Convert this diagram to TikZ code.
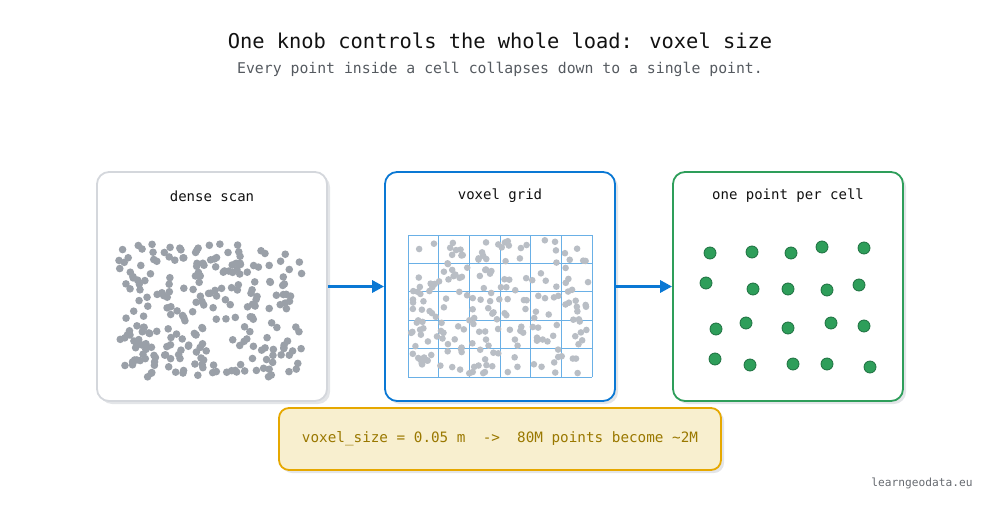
\documentclass[tikz,border=0pt]{standalone}
\usepackage{fontspec}
\setmainfont{DejaVu Sans Mono}
\setmonofont{DejaVu Sans Mono}
\usetikzlibrary{arrows.meta}
\definecolor{titlec}{HTML}{111111}
\definecolor{subc}{HTML}{555A60}
\definecolor{p1border}{HTML}{D4D7DC}
\definecolor{bluec}{HTML}{0A78D4}
\definecolor{greenc}{HTML}{2E9E5A}
\definecolor{greendark}{HTML}{1E7040}
\definecolor{shadowc}{HTML}{E3E5E8}
\definecolor{dotc}{HTML}{9AA0A8}
\definecolor{ldotc}{HTML}{B9BEC5}
\definecolor{gridc}{HTML}{6AB0E6}
\definecolor{noteback}{HTML}{F8EFCF}
\definecolor{noteborder}{HTML}{E6A800}
\definecolor{notetext}{HTML}{9A7800}
\definecolor{wmc}{HTML}{666A70}
\tikzset{
  panel/.style={draw, line width=1.8pt, rounded corners=12pt, fill=white, minimum width=230pt, minimum height=229pt, inner sep=0pt},
  ptitle/.style={font=\fontsize{14}{16}\selectfont, text=titlec},
  flow/.style={draw=bluec, line width=3pt, -{Triangle[length=12pt,width=12pt]}},
  densedot/.style={fill=dotc, draw=none},
  lightdot/.style={fill=ldotc, draw=none},
  celldot/.style={fill=greenc, draw=greendark, line width=0.8pt},
}
\begin{document}
\begin{tikzpicture}[x=1pt,y=-1pt]
\useasboundingbox (0,0) rectangle (1000,516);
% title
\node[font=\fontsize{20.4}{24}\selectfont, text=titlec] (title) at (500,41) {One knob controls the whole load: voxel size};
\node[font=\fontsize{14.8}{17}\selectfont, text=subc] (sub) at (500,69) {Every point inside a cell collapses down to a single point.};
% shadows
\fill[shadowc, rounded corners=12pt] (100,175) rectangle (330,404);
\fill[shadowc, rounded corners=12pt] (388,175) rectangle (618,404);
\fill[shadowc, rounded corners=12pt] (676,175) rectangle (906,404);
\fill[shadowc, rounded corners=10pt] (282,411) rectangle (724,473);
% panels
\node[panel, draw=p1border] (p1) at (212,286.5) {};
\node[panel, draw=bluec] (p2) at (500,286.5) {};
\node[panel, draw=greenc] (p3) at (788,286.5) {};
\node[ptitle] (t1) at (212,196) {dense scan};
\node[ptitle] (t2) at (500,196) {voxel grid};
\node[ptitle] (t3) at (788,196) {one point per cell};
% arrows
\draw[flow] (p1.east) -- (p2.west);
\draw[flow] (p2.east) -- (p3.west);
% dense points
\pgfmathsetseed{7}
\foreach \i in {1,...,250}{
  \pgfmathsetmacro\px{119+185*rnd}
  \pgfmathsetmacro\py{243+134*rnd}
  \fill[densedot] (\px,\py) circle (3.8pt);
}
% grid
\foreach \gx in {408,438.67,469.33,500,530.67,561.33,592}{
  \draw[gridc, line width=0.7pt] (\gx,235) -- (\gx,377);
}
\foreach \gy in {235,263.4,291.8,320.2,348.6,377}{
  \draw[gridc, line width=0.7pt] (408,\gy) -- (592,\gy);
}
\pgfmathsetseed{23}
\foreach \i in {1,...,210}{
  \pgfmathsetmacro\px{411+178*rnd}
  \pgfmathsetmacro\py{240+134*rnd}
  \fill[lightdot] (\px,\py) circle (3.3pt);
}
% one point per cell
\foreach \cx/\cy in {710/253, 752/252, 791/253, 822/247, 864/248,
                     706/283, 753/289, 788/289, 827/290, 859/285,
                     716/329, 746/323, 788/328, 831/323, 864/326,
                     715/359, 750/365, 793/364, 827/364, 870/367}{
  \draw[celldot] (\cx,\cy) circle (6pt);
}
% note
\node[draw=noteborder, line width=1.8pt, fill=noteback, rounded corners=10pt, minimum width=442pt, minimum height=62pt, text=notetext, font=\fontsize{14.3}{17}\selectfont] (note) at (500,439) {voxel\_size = 0.05 m\ \ ->\ \ 80M points become \textasciitilde2M};
% watermark
\node[text=wmc, font=\fontsize{11.2}{13}\selectfont] (wm) at (922,483) {learngeodata.eu};
\end{tikzpicture}
\end{document}
